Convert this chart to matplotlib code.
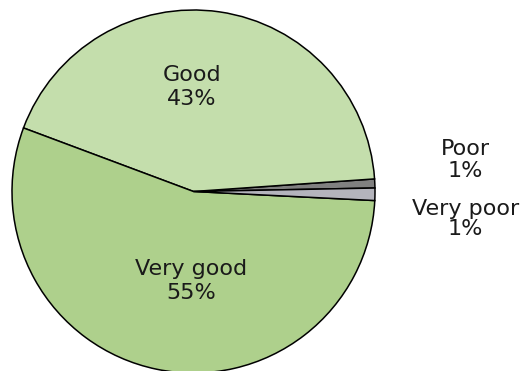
import matplotlib
matplotlib.use('Agg')
import matplotlib.pyplot as plt

labels = ['Poor', 'Good', 'Very good', 'Very poor']
values = [0.8, 43.2, 54.9, 1.1]
pct_labels = ['1%', '43%', '55%', '1%']
colors = ['#808080', '#c4deac', '#aed08c', '#b4b4bc']

# label positions in pixel coords (x, y from top) and line spacing
label_pos = [(465.5, 160), (192, 87), (191.5, 281), (465.5, 219)]
line_sp = [1.1, 1.3, 1.3, 1.0]

W, H = 520, 371
fig = plt.figure(figsize=(W / 100, H / 100), dpi=100)
ax = fig.add_axes([0, 0, 1, 1])
ax.set_xlim(0, W)
ax.set_ylim(0, H)
ax.set_aspect('equal')
ax.axis('off')

ax.pie(values, colors=colors, startangle=1.1, counterclock=True,
       center=(193.5, H - 191.5), radius=181.5,
       wedgeprops=dict(edgecolor='black', linewidth=1.1))

ax.set_xlim(0, W)
ax.set_ylim(0, H)

for lab, pct, (x, y), ls in zip(labels, pct_labels, label_pos, line_sp):
    ax.text(x, H - y, lab + '\n' + pct, ha='center', va='center',
            fontsize=16, color='#1a1a1a', linespacing=ls,
            family='DejaVu Sans')

fig.savefig('out.png', dpi=100)
